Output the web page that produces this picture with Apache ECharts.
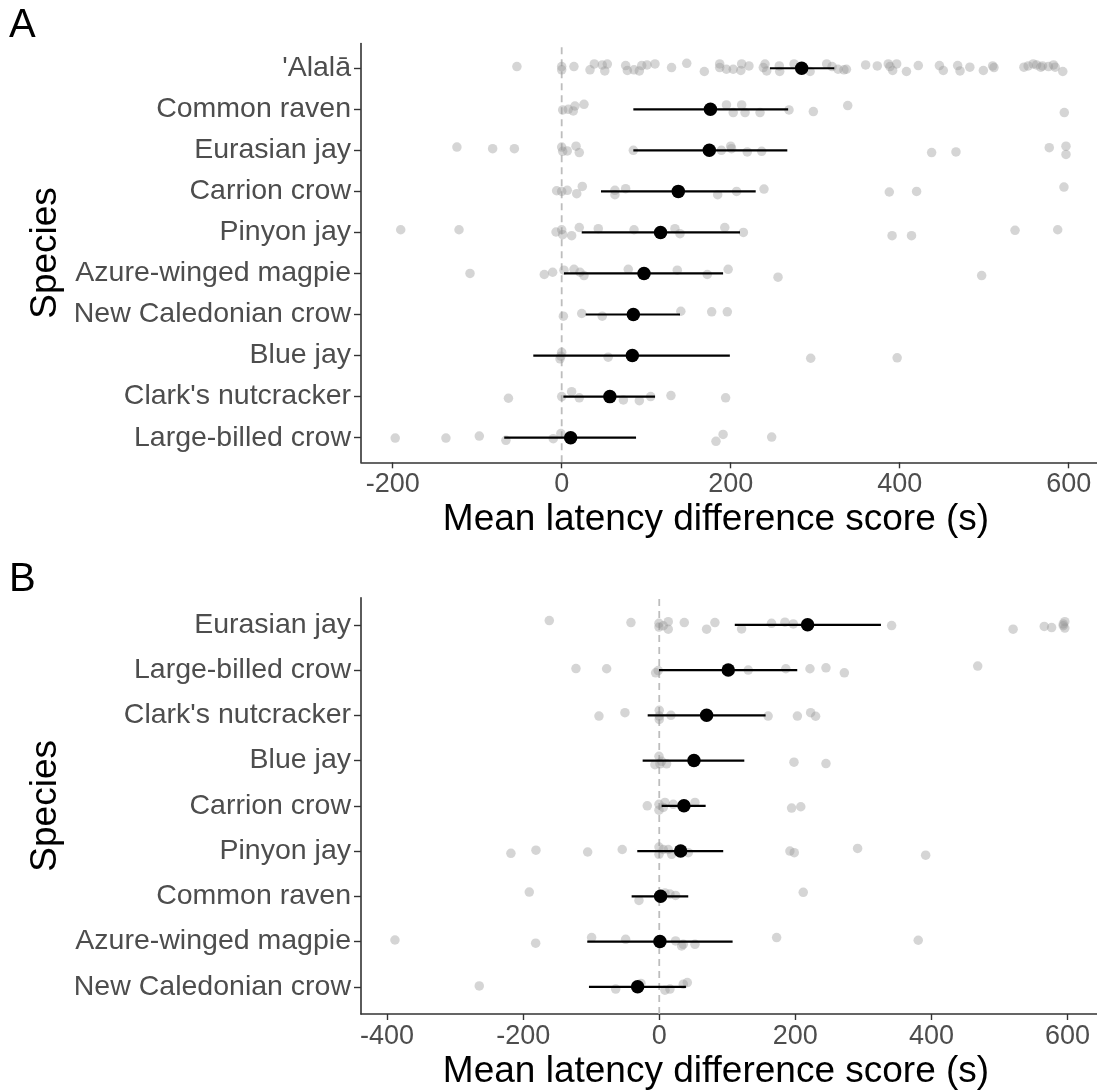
<!DOCTYPE html>
<html>
<head>
<meta charset="utf-8">
<script src="https://cdn.jsdelivr.net/npm/echarts@6/dist/echarts.min.js"></script>
<style>
  html, body { margin: 0; padding: 0; background: #fff; }
  #chart { width: 1097px; height: 1091px; }
</style>
</head>
<body>
<div id="chart"></div>
<script>
// panel A: species top -> bottom, summary (mean, lower, upper), raw points [value, jitter]
const speciesA = ["'Alalā", 'Common raven', 'Eurasian jay', 'Carrion crow', 'Pinyon jay',
  'Azure-winged magpie', 'New Caledonian crow', 'Blue jay', "Clark's nutcracker", 'Large-billed crow'];
const meanA = [284, 176, 174.7, 138, 117, 97.4, 84.8, 83.6, 57, 10.6];
const lowA = [246.5, 84.8, 84.8, 46.5, 23.7, 2.7, 28.4, -33.6, 2, -68];
const highA = [322.6, 268, 267, 229.6, 211, 191, 140, 199, 110.4, 88];
const pointsA = [
  [[-53,0.04],[0,0.04],[0,-0.04],[14.5,0.04],[33.5,-0.04],[38.6,0.105],[48,0.08],[51,-0.065],[54,0.1],
   [75.7,0.065],[77.7,-0.055],[85.6,-0.04],[91.9,-0.065],[94.7,0.065],[101,0.08],[110.4,0.105],[130,0.015],
   [148,0.12],[168.8,-0.08],[187,0.105],[187,0.015],[195,-0.025],[203,-0.025],[213,0.105],[212,-0.055],
   [221.6,0.055],[240.6,0.1],[238.6,0.015],[242.6,-0.065],[257.5,0.055],[258,-0.08],[275,0.105],[294,-0.08],
   [313.6,0.105],[320,0.04],[327,-0.025],[334,-0.04],[337,-0.025],[359.7,0.08],[373.5,0.055],[386.5,0.105],
   [391.7,-0.055],[396.4,0.105],[388.5,0.04],[408,-0.08],[422,0.065],[447,0.065],[451.6,-0.055],[468.6,0.065],
   [471.4,-0.065],[483,0.025],[499,-0.055],[510,0.055],[511.6,0.015],[547,0.025],[552,0.055],[558,0.105],
   [562,0.08],[567,0.025],[569,0.055],[576,0.04],[582,0.08],[584,0.025],[593,-0.08]],
  [[1.2,-0.015],[7.8,0],[13.7,-0.04],[15.7,0.08],[26.4,0.12],[195,0.105],[203,-0.08],[213,0.105],[217,-0.08],
   [234.7,-0.08],[269,-0.015],[297.8,-0.055],[338.5,0.09],[594.8,-0.08]],
  [[-124,0.08],[-81.7,0.04],[-56,0.04],[0,0.08],[1.2,-0.025],[6.6,-0.015],[17,0.1],[20.8,-0.055],[84.8,0],
   [189,0],[200,0.1],[201,0.04],[219.6,-0.04],[236.7,-0.025],[437.8,-0.055],[466.6,-0.04],[577,0.065],
   [596.8,0.1],[596.8,-0.1]],
  [[-6,0.015],[0,0],[6.6,0.025],[17.8,-0.055],[24.4,0.12],[63,0.025],[63,-0.08],[75.7,0.065],[184.6,-0.08],
   [207,0],[239.4,0.055],[387.7,-0.015],[420,0],[594.4,0.105]],
  [[-190.5,0.065],[-121.5,0.065],[-6.7,0.01],[0,0.065],[1.2,-0.055],[11.8,-0.08],[20.8,0.12],[43.3,0.09],
   [85.6,0.065],[134,0.09],[140,-0.03],[193,0.12],[215,0],[391,-0.08],[414,-0.08],[536.5,0.05],[587,0.065]],
  [[-108.5,0],[-20.6,-0.025],[-10.7,0.03],[2.7,0.08],[14.6,0.1],[21.7,0.03],[26.4,-0.05],[78.8,0.1],
   [136.8,0.08],[172.3,-0.025],[197,0.1],[256,-0.09],[497,-0.05]],
  [[2,-0.04],[23.7,0.025],[48,-0.04],[141,0.08],[177.5,0.065],[196,0.065]],
  [[-2,-0.08],[0,0.08],[-1,-0.015],[55,-0.04],[294.7,-0.065],[397,-0.055]],
  [[-63,-0.04],[0,0],[11.8,0.12],[20.8,-0.03],[73,-0.08],[91.9,-0.1],[105.3,0],[129.3,0.025],[194,-0.03]],
  [[-197,-0.01],[-137,-0.01],[-97.5,0.04],[-66,-0.065],[-10,-0.025],[-1,0.1],[182.6,-0.09],[191,0.08],[248.5,0.015]]
];

// panel B
const speciesB = ['Eurasian jay', 'Large-billed crow', "Clark's nutcracker", 'Blue jay', 'Carrion crow',
  'Pinyon jay', 'Common raven', 'Azure-winged magpie', 'New Caledonian crow'];
const meanB = [218, 101.4, 69.6, 51, 36.3, 31.4, 2, 1, -31.8];
const lowB = [111, -0.4, -17, -24.4, 3.5, -32.3, -40.6, -105.8, -103.3];
const highB = [325.8, 202.8, 156.3, 125, 68.2, 94, 42.6, 107.8, 39.2];
const pointsB = [
  [[-161.6,0.095],[-41.6,0.05],[-0.4,0.035],[-0.4,-0.05],[5.9,-0.02],[13.2,0.07],[13.2,-0.095],[36.8,0.05],
   [69.6,-0.095],[81.8,0.05],[121,-0.09],[165,0.035],[184.7,0.06],[197,0.02],[341.5,-0.015],[520,-0.095],
   [565.8,-0.035],[576.6,-0.06],[593.7,0.02],[596,0.07],[596,-0.07],[593.7,-0.02]],
  [[-122.4,0.035],[-77.3,0.03],[-5.3,-0.06],[-1.5,-0.01],[130.8,0],[186,0.03],[221.5,0.03],[245,0.05],
   [272,-0.06],[468,0.09]],
  [[-88.6,-0.015],[-50.4,0.06],[0,0.11],[0,-0.015],[0,-0.09],[17.2,0],[160,-0.015],[203,-0.015],[222.5,0.06],
   [229.8,-0.02]],
  [[-6.3,-0.09],[-0.4,0.095],[1,-0.07],[3.5,-0.015],[10.8,-0.07],[198,-0.035],[245,-0.065]],
  [[-17.6,0],[-0.4,0.035],[-0.4,-0.095],[5.9,-0.035],[8.4,0.075],[20.6,0.035],[52.5,0.075],[194.5,-0.05],
   [208,-0.02]],
  [[-218,-0.05],[-181.2,0.02],[-105.2,-0.02],[-54.4,0.035],[-0.4,0.09],[-0.4,-0.07],[5.9,0.035],[18.2,-0.07],
   [13.2,0.035],[42.6,-0.035],[192,0],[198.4,-0.035],[291.5,0.06],[391.5,-0.09]],
  [[-191,0.095],[-29.8,-0.09],[0,0.035],[8.4,0.075],[15.7,0.05],[24,0.02],[211.6,0.09]],
  [[-388.4,0.035],[-181.6,-0.035],[-99.4,0.09],[-49.4,0.05],[24,0.015],[32.9,-0.095],[35.3,-0.06],
   [52.5,-0.06],[172.5,0.09],[380.6,0.03]],
  [[-264.5,0.02],[-64,-0.05],[-26.9,0.075],[8.4,-0.075],[15.7,-0.05],[35.3,0.06],[41.2,0.095]]
];

const ticksXA = [-200, 0, 200, 400, 600];
const ticksXB = [-400, -200, 0, 200, 400, 600];

const FONT = "'Liberation Sans', Arial, sans-serif";
const chart = echarts.init(document.getElementById('chart'));

function rowIdx(n) { return Array.from({ length: n }, (_, i) => i); }

function panel(idx, species, means, lows, highs, points, xmin, xmax, xticks) {
  const n = species.length;
  const yOf = i => n - 1 - i;
  const raw = [];
  points.forEach((row, i) => row.forEach(p => raw.push([p[0], yOf(i) + p[1]])));
  const bars = species.map((_, i) => [lows[i], highs[i], yOf(i)]);
  const dots = species.map((_, i) => [means[i], yOf(i)]);

  const xAxis = {
    type: 'value', gridIndex: idx, min: xmin, max: xmax,
    axisLine: { show: true, onZero: false, lineStyle: { color: '#333', width: 1.6 } },
    axisTick: { show: true, length: 6, customValues: xticks, lineStyle: { color: '#333', width: 1.4 } },
    axisLabel: { customValues: xticks, fontSize: 27, color: '#4d4d4d', margin: 9, fontFamily: FONT },
    splitLine: { show: false },
    name: 'Mean latency difference score (s)', nameLocation: 'middle', nameGap: 39,
    nameTextStyle: { fontSize: 37, color: '#000', fontFamily: FONT, padding: [0, 26, 0, 0] }
  };
  const yAxis = {
    type: 'value', gridIndex: idx, min: -0.6, max: n - 0.4,
    axisLine: { show: true, onZero: false, lineStyle: { color: '#333', width: 1.6 } },
    axisTick: { show: true, length: 7, customValues: rowIdx(n), lineStyle: { color: '#333', width: 1.4 } },
    axisLabel: {
      customValues: rowIdx(n), fontSize: 28.5, color: '#4d4d4d', margin: 10, fontFamily: FONT,
      formatter: v => species[n - 1 - Math.round(v)]
    },
    splitLine: { show: false },
    name: 'Species', nameLocation: 'middle', nameRotate: 90, nameGap: 297, nameMoveOverlap: false,
    nameTextStyle: { fontSize: 37, color: '#000', fontFamily: FONT }
  };
  const series = [
    {
      type: 'line', xAxisIndex: idx, yAxisIndex: idx, silent: true, symbol: 'none', z: 1,
      data: [[0, -0.6], [0, n - 0.4]],
      lineStyle: { color: '#bdbdbd', width: 1.8, type: [7, 5] }
    },
    {
      type: 'scatter', xAxisIndex: idx, yAxisIndex: idx, data: raw, symbolSize: 9.5, z: 2,
      itemStyle: { color: 'rgba(150,150,150,0.4)', opacity: 1 }
    },
    {
      type: 'custom', xAxisIndex: idx, yAxisIndex: idx, data: bars, z: 3,
      encode: { x: [0, 1], y: 2 },
      renderItem: (params, api) => {
        const a = api.coord([api.value(0), api.value(2)]);
        const b = api.coord([api.value(1), api.value(2)]);
        return { type: 'line', shape: { x1: a[0], y1: a[1], x2: b[0], y2: b[1] },
          style: { stroke: '#000', lineWidth: 2.2 } };
      }
    },
    {
      type: 'scatter', xAxisIndex: idx, yAxisIndex: idx, data: dots, symbolSize: 13.5, z: 4,
      itemStyle: { color: '#000', opacity: 1 }
    }
  ];
  return { xAxis, yAxis, series };
}

const pA = panel(0, speciesA, meanA, lowA, highA, pointsA, -237.5, 633.5, ticksXA);
const pB = panel(1, speciesB, meanB, lowB, highB, pointsB, -438.3, 643.3, ticksXB);

chart.setOption({
  animation: false,
  textStyle: { fontFamily: FONT },
  grid: [
    { left: 361, top: 43.6, width: 736, height: 418.7 },
    { left: 361, top: 597.7, width: 736, height: 419 }
  ],
  xAxis: [pA.xAxis, pB.xAxis],
  yAxis: [pA.yAxis, pB.yAxis],
  series: [...pA.series, ...pB.series],
  graphic: [
    { type: 'text', left: 9, top: 6, style: { text: 'A', fontSize: 40, fill: '#000', fontFamily: FONT } },
    { type: 'text', left: 9, top: 560, style: { text: 'B', fontSize: 40, fill: '#000', fontFamily: FONT } }
  ]
});
</script>
</body>
</html>
